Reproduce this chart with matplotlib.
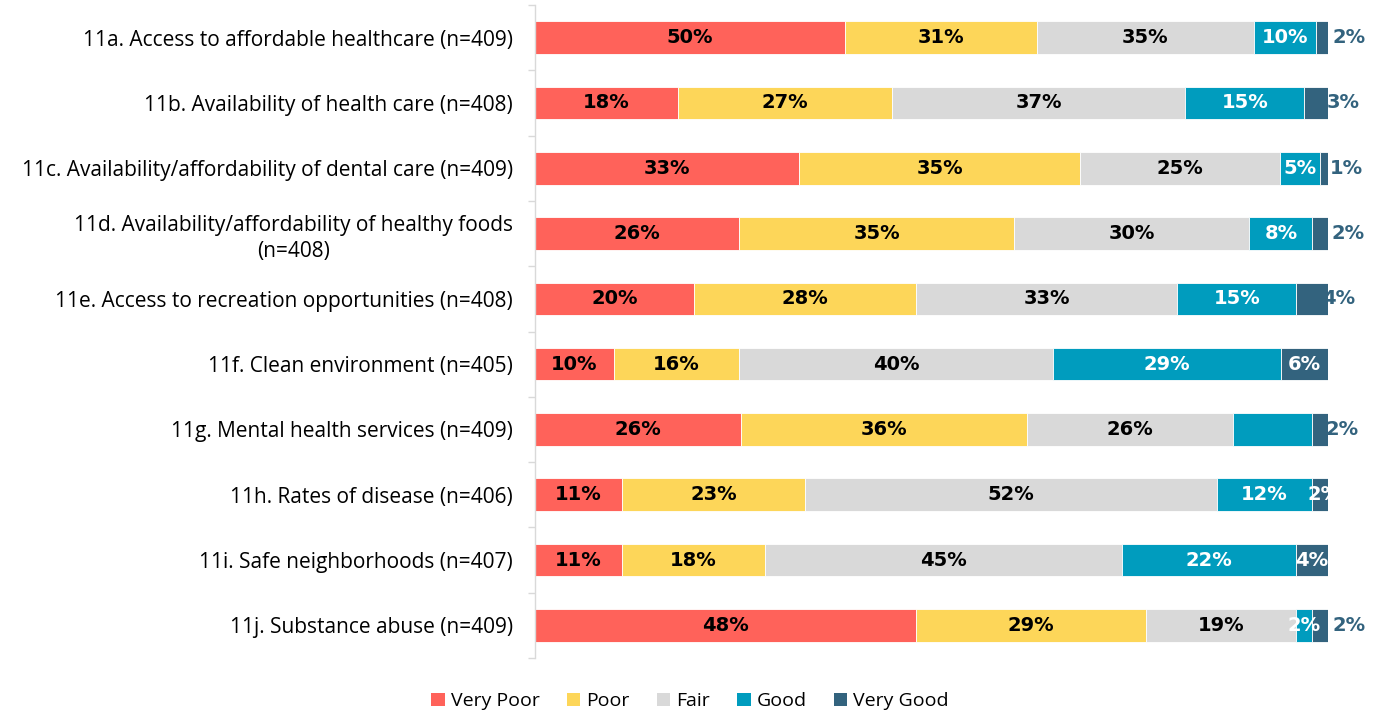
import numpy as np
import matplotlib
matplotlib.use('Agg')
import matplotlib.pyplot as plt
from matplotlib.patches import Patch

categories = [
    '11a. Access to affordable healthcare (n=409)',
    '11b. Availability of health care (n=408)',
    '11c. Availability/affordability of dental care (n=409)',
    '11d. Availability/affordability of healthy foods\n(n=408)',
    '11e. Access to recreation opportunities (n=408)',
    '11f. Clean environment (n=405)',
    '11g. Mental health services (n=409)',
    '11h. Rates of disease (n=406)',
    '11i. Safe neighborhoods (n=407)',
    '11j. Substance abuse (n=409)',
]
series = ['Very Poor', 'Poor', 'Fair', 'Good', 'Very Good']

very_poor = [50, 18, 33, 26, 20, 10, 26, 11, 11, 48]
poor      = [31, 27, 35, 35, 28, 16, 36, 23, 18, 29]
fair      = [35, 37, 25, 30, 33, 40, 26, 52, 45, 19]
good      = [10, 15, 5, 8, 15, 29, 10, 12, 22, 2]
very_good = [2, 3, 1, 2, 4, 6, 2, 2, 4, 2]

# which labels are printed (the 11g "Good" label is missing in the original)
show_good = [True, True, True, True, True, True, False, True, True, True]

colors = ['#FF625A', '#FDD659', '#D9D9D9', '#009CBE', '#33637E']
label_colors = ['black', 'black', 'black', 'white', 'white']

# very good labels: drawn outside the bar (dark) or inside (white); offset in % units
vg_outside = [True, True, True, True, True, False, True, False, False, True]
vg_offset = [2.6, 1.9, 2.3, 2.5, 1.3, 0, 1.8, 0.5, 0, 2.6]

bar_font = ['Liberation Sans Narrow', 'DejaVu Sans Condensed', 'DejaVu Sans']
text_font = ['Open Sans', 'DejaVu Sans']

data = np.array([very_poor, poor, fair, good, very_good], dtype=float)
shares = data / data.sum(axis=0) * 100

fig = plt.figure(figsize=(13.8, 7.15), dpi=100)
ax = fig.add_axes([0.3877, 0.0797, 0.5746, 0.9133])

y = np.arange(len(categories))
left = np.zeros(len(categories))
for i, name in enumerate(series):
    ax.barh(y, shares[i], left=left, height=0.5, color=colors[i],
            edgecolor='white', linewidth=0.6, label=name)
    for j in range(len(categories)):
        centre = left[j] + shares[i][j] / 2
        txt = '{:.0f}%'.format(data[i][j])
        if i == 3 and not show_good[j]:
            continue
        if i == 4 and vg_outside[j]:
            ax.text(100 + vg_offset[j], y[j], txt, ha='center', va='center',
                    color=colors[4], fontsize=14, fontweight='bold',
                    family=bar_font, clip_on=False)
        else:
            ax.text(centre + (vg_offset[j] if i == 4 else 0), y[j], txt,
                    ha='center', va='center', color=label_colors[i],
                    fontsize=14, fontweight='bold', family=bar_font)
    left += shares[i]

ax.set_xlim(0, 100)
ax.set_ylim(len(categories) - 0.5, -0.5)
ax.set_yticks(y)
ax.set_yticklabels(categories, family=text_font, fontsize=15,
                   multialignment='center', linespacing=1.3)
ax.set_yticks(np.arange(len(categories) + 1) - 0.5, minor=True)
ax.tick_params(axis='y', which='major', length=0, pad=16)
ax.tick_params(axis='y', which='minor', length=5, color='#D9D9D9', width=1)
ax.set_xticks([])
for s in ['top', 'right', 'bottom']:
    ax.spines[s].set_visible(False)
ax.spines['left'].set_color('#D9D9D9')
ax.spines['left'].set_linewidth(1)

handles = [Patch(facecolor=c, label=s) for c, s in zip(colors, series)]
fig.legend(handles=handles, loc='lower center', bbox_to_anchor=(0.5, -0.018),
           ncol=5, frameon=False, prop={'family': text_font, 'size': 14},
           handlelength=0.7, handleheight=0.7, handletextpad=0.3,
           columnspacing=1.4)

fig.savefig('out.png', dpi=100)
